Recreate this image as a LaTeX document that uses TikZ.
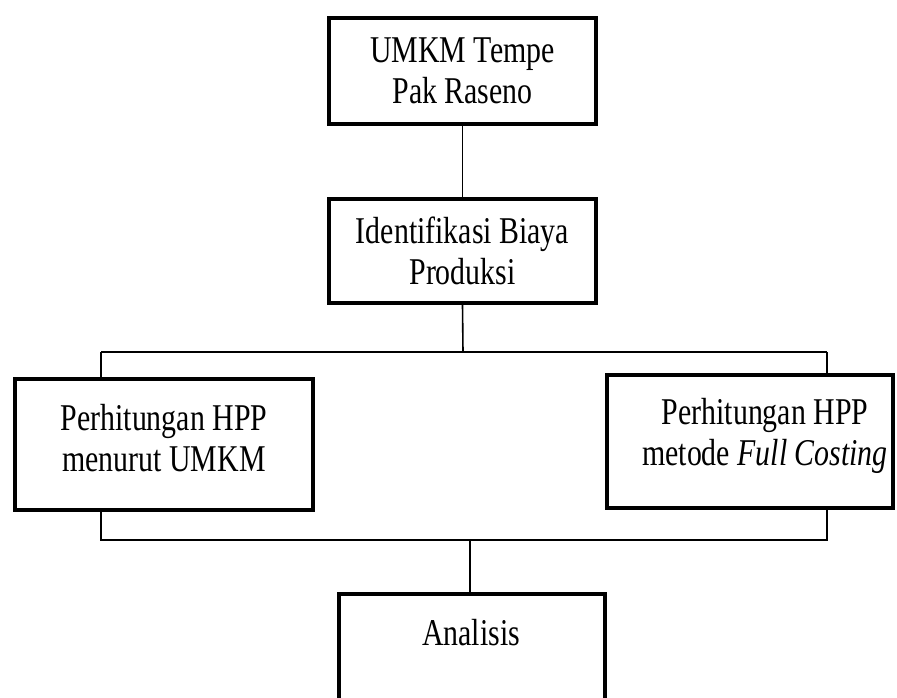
\documentclass[tikz,border=0pt]{standalone}
\usepackage{fontspec}
\setmainfont{Liberation Serif}[FakeStretch=0.79]
\usepackage{tikz}
\usetikzlibrary{positioning, calc}

\begin{document}
\begin{tikzpicture}[x=1pt, y=-1pt,
    kotak/.style={draw, rectangle, line width=3.6pt, minimum width=267pt, minimum height=106pt, align=center, font=\fontsize{37.8}{41}\selectfont},
    teks/.style={align=center, inner sep=0pt, font=\fontsize{37.8}{41}\selectfont},
    garis/.style={line width=1.6pt}]
\clip (0,0) rectangle (897,697);
\node[kotak] (umkm) at (462.5,71) {UMKM Tempe\\Pak Raseno};
\node[kotak, minimum height=104pt] (biaya) at (462.5,251) {Identifikasi Biaya\\Produksi};
\node[kotak, minimum width=298pt, minimum height=131pt] (hppumkm) at (164,444.5) {};
\node[teks] (hppumkmteks) at (164,438.5) {Perhitungan HPP\\menurut UMKM};
\node[kotak, minimum width=286pt, minimum height=133pt] (hppfull) at (750,441.5) {};
\node[teks] (hppfullteks) at (765,435.5) {Perhitungan HPP\\metode \textit{Full Costing}};
\node[kotak, minimum width=266pt, minimum height=132pt] (analisis) at (472,660) {};
\node[teks] (analisisteks) at (471,633) {Analisis};
% titik sambungan
\coordinate (atas) at (463,352);
\coordinate (kiriatas) at (101,352);
\coordinate (kananatas) at (827,352);
\coordinate (bawah) at (470,540);
\coordinate (kiribawah) at (101,540);
\coordinate (kananbawah) at (827,540);
\draw[garis] (umkm) -- (biaya);
\draw[garis] (biaya.south) -- (atas);
\draw[garis] (kiriatas) -- (kananatas);
\draw[garis] (kiriatas) -- (kiriatas |- hppumkm.north);
\draw[garis] (kananatas) -- (kananatas |- hppfull.north);
\draw[garis] (kiribawah |- hppumkm.south) -- (kiribawah) -- (kananbawah) -- (kananbawah |- hppfull.south);
\draw[garis] (bawah) -- (bawah |- analisis.north);
\end{tikzpicture}
\end{document}
